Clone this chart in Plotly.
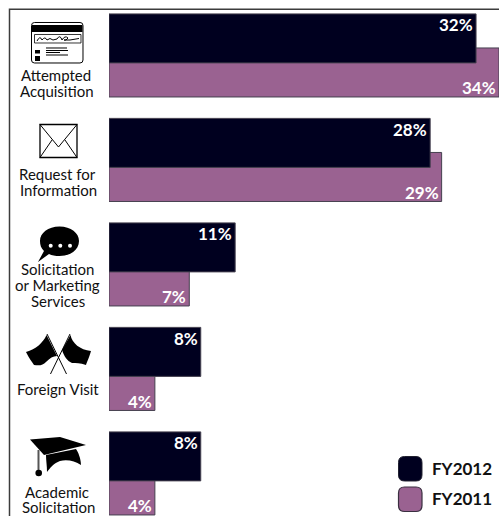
import re
import plotly.graph_objects as go

W, H = 499, 516

categories = ["Attempted Acquisition", "Request for Information",
              "Solicitation or Marketing Services", "Foreign Visit", "Academic Solicitation"]
fy2012 = [32, 28, 11, 8, 8]
fy2011 = [34, 29, 7, 4, 4]

label_lines = [
    [("Attempted", 56, 75), ("Acquisition", 57, 91)],
    [("Request for", 57, 174), ("Information", 58, 190)],
    [("Solicitation", 57, 269), ("or Marketing", 57, 285), ("Services", 58, 301)],
    [("Foreign Visit", 58, 389)],
    [("Academic", 57, 492), ("Solicitation", 58, 507)],
]

DARK = "#00001f"
PURPLE = "#9a6291"
EDGE = "#45404f"
FONT = "Lato"
LABEL_SIZE = 15
VALUE_SIZE = 17


def fx(x):
    return x / W


def fy(y):
    return 1 - y / H


def path(d):
    """Turn an SVG path in pixel coordinates into one in paper coordinates."""
    tokens = re.findall(r"[MLCQZ]|-?\d+\.?\d*", d)
    out, is_x = [], True
    for tok in tokens:
        if tok in "MLCQZ":
            out.append(tok)
            is_x = True
        else:
            out.append(f"{fx(float(tok)):.5f}" if is_x else f"{fy(float(tok)):.5f}")
            is_x = not is_x
    return " ".join(out)


def filled(d, color="black", line=None, width=0):
    return dict(type="path", xref="paper", yref="paper", path=path(d), fillcolor=color,
                line=dict(color=line or color, width=width), layer="above")


def stroked(d, color="black", width=1):
    return dict(type="path", xref="paper", yref="paper", path=path(d),
                line=dict(color=color, width=width), layer="above")


def rounded(x0, y0, x1, y1, r):
    return (f"M {x0+r} {y0} L {x1-r} {y0} Q {x1} {y0} {x1} {y0+r} L {x1} {y1-r} Q {x1} {y1} {x1-r} {y1} "
            f"L {x0+r} {y1} Q {x0} {y1} {x0} {y1-r} L {x0} {y0+r} Q {x0} {y0} {x0+r} {y0} Z")


def dot(cx, cy, r, color):
    return dict(type="circle", xref="paper", yref="paper", x0=fx(cx - r), x1=fx(cx + r),
                y0=fy(cy - r), y1=fy(cy + r), fillcolor=color, line=dict(width=0), layer="above")


shapes = [
    # outer frame, open on the right and at the bottom
    stroked(f"M 9.5 {H} L 9.5 9.3 L {W} 9.3", "#3c3c3c", 1.5),

    # card
    filled(rounded(31.5, 22.5, 83, 63, 3), "white", "black", 1),
    filled("M 32 25 L 82.5 25 L 82.5 32 L 32 32 Z"),
    filled("M 34.5 34.5 L 81 34.5 L 81 43 L 34.5 43 Z", "white", "black", 0.8),
    stroked("M 37 41 Q 40 35 42 40 Q 45 36 47 40 Q 50 37 53 40 L 57 39 Q 60 34 62 40 "
            "Q 65 35 68 38 Q 66 41 64 40 L 70 40 L 79 38.5", "black", 1),
    filled("M 35 50 L 40 50 L 40 53.5 L 35 53.5 Z"),
    filled("M 35 56 L 40 56 L 40 61 L 35 61 Z"),
    stroked("M 46 48 L 67 48 M 46 50.5 L 68 50.5 M 46 52.5 L 60 52.5 M 46 55 L 68 55", "black", 1),

    # envelope
    filled("M 40 124.5 L 77 124.5 L 77 157.5 L 40 157.5 Z", "white", "black", 1.3),
    stroked("M 40 124.5 L 58.5 147 L 77 124.5 M 40 157.5 L 52 140 M 77 157.5 L 65 140", "black", 1),

    # speech bubble
    filled("M 59.5 226.5 C 71 226.5 79 233 79 241 C 79 250 70 256 59.5 256 C 55 256 52 255.5 49 254 "
           "L 38 262 L 44 251 C 41 248 40 245 40 241 C 40 233 48 226.5 59.5 226.5 Z"),
    dot(50.7, 245.7, 2, "white"),
    dot(60.3, 245.7, 2, "white"),
    dot(70, 245.7, 2, "white"),

    # crossed flags
    filled("M 46.5 335 C 43 343 36 349 26 352 C 29 358 32 362 34 365 C 40 366 43 365 46 362 "
           "C 50 358 53 356 57 356 Z"),
    filled("M 70.5 335 C 72 343 80 350 91 351 C 89 358 87 362 86 365 C 80 363 76 363 72 363 "
           "C 67 361 64 356 62 350 Z"),
    stroked("M 47 334 L 66.5 374", "black", 1),
    stroked("M 70 334 L 50.5 374", "black", 1),

    # graduation cap
    filled("M 30 439.5 L 60 437 L 86 445 L 44 455 Z"),
    filled("M 46 455 L 76 449 C 80 455 81 462 81 465 C 75 461 67 459 60 461 C 54 463 50 468 47 472 "
           "C 47 466 46 460 46 455 Z"),
    stroked("M 38.5 450 L 38.5 471", "#555555", 2),
    dot(38.7, 473, 3.3, "black"),

    # legend swatches
    filled(rounded(398.5, 456.5, 422, 481, 6), DARK, "#20202f", 1),
    filled(rounded(398.5, 487, 422, 511.5, 6), PURPLE, "#3a2f40", 1.2),
]

annotations = []
for lines in label_lines:
    for text, x, y in lines:
        annotations.append(dict(text=text, xref="paper", yref="paper", x=fx(x), y=fy(y),
                                xanchor="center", yanchor="middle", showarrow=False,
                                font=dict(family=FONT, size=LABEL_SIZE, color="#111111")))

# value labels sit in the top corner of the upper bar and the bottom corner of the lower one
for cat, upper, lower in zip(categories, fy2012, fy2011):
    annotations.append(dict(text=f"<b>{upper}%</b>", x=upper, y=cat, xref="x", yref="y",
                            xanchor="right", yanchor="middle", xshift=-1, yshift=30.5, showarrow=False,
                            font=dict(family=FONT, size=VALUE_SIZE, color="white")))
    annotations.append(dict(text=f"<b>{lower}%</b>", x=lower, y=cat, xref="x", yref="y",
                            xanchor="right", yanchor="middle", xshift=-1, yshift=-32.5, showarrow=False,
                            font=dict(family=FONT, size=VALUE_SIZE, color="white")))

for text, y in (("FY2012", 468), ("FY2011", 498)):
    annotations.append(dict(text=f"<b>{text}</b>", xref="paper", yref="paper", x=fx(430), y=fy(y),
                            xanchor="left", yanchor="middle", showarrow=False,
                            font=dict(family=FONT, size=17, color="#111111")))

fig = go.Figure()
# the lower bars go first so the upper ones overlap them
fig.add_bar(y=categories, x=fy2011, orientation="h", name="FY2011", width=0.469, offset=-0.072,
            marker=dict(color=PURPLE, line=dict(color=EDGE, width=1)))
fig.add_bar(y=categories, x=fy2012, orientation="h", name="FY2012", width=0.469, offset=-0.398,
            marker=dict(color=DARK, line=dict(color=EDGE, width=1)))

fig.update_layout(
    width=W, height=H, margin=dict(l=0, r=0, t=0, b=0), showlegend=False,
    barmode="overlay", paper_bgcolor="white", plot_bgcolor="white",
    xaxis=dict(domain=[109 / W, 1], range=[0, 34.001], visible=False),
    yaxis=dict(domain=[0, 1], range=[4.407, -0.531], visible=False,
               categoryorder="array", categoryarray=categories),
    shapes=shapes, annotations=annotations,
)

fig.write_html("out.html")
